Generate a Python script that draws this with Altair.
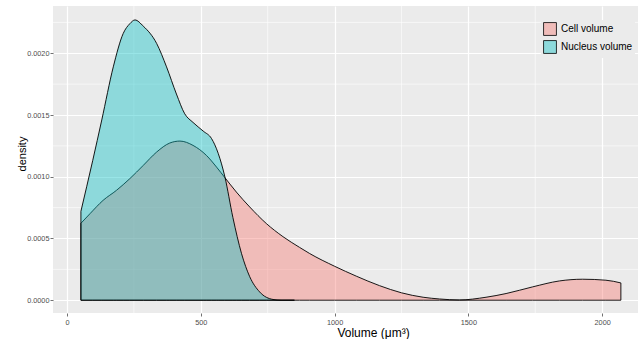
import altair as alt
import pandas as pd

series_names = ["Cell volume", "Nucleus volume"]
series_colors = ["#F8766D", "#00BFC4"]
legend_colors = ["#F0BCB9", "#8DD9DB"]

cell_x = [52, 86, 135, 185, 235, 285, 335, 384, 422, 471, 521, 559, 590, 633, 683, 745,
          807, 869, 907, 1000, 1081, 1168, 1250, 1331, 1392, 1466, 1566, 1641, 1740, 1840,
          1927, 2014, 2070]
cell_y = [0.000623, 0.000701, 0.000809, 0.000890, 0.000985, 0.001092, 0.001200, 0.001273,
          0.001289, 0.001254, 0.001173, 0.001078, 0.000993, 0.000876, 0.000755, 0.000621,
          0.000515, 0.000428, 0.000378, 0.000275, 0.000195, 0.000118, 0.000060, 0.000024,
          0.000010, 0.000002, 0.000024, 0.000054, 0.000108, 0.000156, 0.000170, 0.000162,
          0.000140]

nucleus_x = [52, 96, 130, 173, 210, 235, 254, 285, 335, 372, 409, 440, 471, 509, 540, 565,
             590, 620, 652, 683, 720, 770, 800, 850]
nucleus_y = [0.00072, 0.00113, 0.00146, 0.00189, 0.00216, 0.00224, 0.00227, 0.00222, 0.00208,
             0.00189, 0.00167, 0.00151, 0.00144, 0.00137, 0.00131, 0.00119, 0.00100, 0.00067,
             0.00038, 0.00019, 0.000067, 0.000006, 0.0, 0.0]

x_major = [0, 500, 1000, 1500, 2000]
x_minor = [250, 750, 1250, 1750]
y_major = [0.0, 0.0005, 0.0010, 0.0015, 0.0020]
y_minor = [0.00025, 0.00075, 0.00125, 0.00175, 0.00225]

x_domain = [-52.3, 2134]
y_domain = [-0.0001036, 0.002383]

df = pd.concat([
    pd.DataFrame({"series": series_names[0], "x": cell_x, "y": cell_y}),
    pd.DataFrame({"series": series_names[1], "x": nucleus_x, "y": nucleus_y}),
], ignore_index=True)

xscale = alt.Scale(domain=x_domain, nice=False, zero=False)
yscale = alt.Scale(domain=y_domain, nice=False, zero=False)

font = "Liberation Sans"

x_axis = alt.Axis(
    values=x_major, format="d", title="Volume (μm³)",
    labelFontSize=7.3, labelColor="#4D4D4D", labelFont=font, labelPadding=2,
    tickColor="#333333", tickSize=3, tickWidth=0.7, domain=False,
    grid=True, gridColor="white", gridWidth=1.2,
    titleFont=font, titleFontSize=12, titleFontWeight="normal", titleColor="black",
    titleX=320, titleY=19, titleBaseline="middle", titleAlign="center")

y_axis = alt.Axis(
    values=y_major, format=".4f", title="density",
    labelFontSize=7.3, labelColor="#4D4D4D", labelFont=font, labelPadding=1,
    tickColor="#333333", tickSize=3, tickWidth=0.7, domain=False,
    grid=True, gridColor="white", gridWidth=1.2,
    titleFont=font, titleFontSize=11, titleFontWeight="normal", titleColor="black",
    titleX=-31, titleY=147.5, titleBaseline="middle", titleAngle=270, titleAlign="center")

minor_x = alt.Chart(pd.DataFrame({"v": x_minor})).mark_rule(
    color="white", strokeWidth=0.6, clip=True
).encode(x=alt.X("v:Q", scale=xscale, axis=x_axis))

minor_y = alt.Chart(pd.DataFrame({"v": y_minor})).mark_rule(
    color="white", strokeWidth=0.6, clip=True
).encode(y=alt.Y("v:Q", scale=yscale, axis=y_axis))

areas = alt.Chart(df).mark_area(
    fillOpacity=0.4, stroke="black", strokeWidth=0.9, strokeOpacity=1,
    interpolate="monotone"
).encode(
    x=alt.X("x:Q", scale=xscale, axis=x_axis),
    y=alt.Y("y:Q", scale=yscale, stack=None, axis=y_axis),
    y2=alt.datum(0),
    color=alt.Color("series:N", scale=alt.Scale(domain=series_names, range=series_colors),
                    legend=None),
)

legend_layer = alt.Chart(pd.DataFrame({"series": series_names})).mark_square(
    opacity=0, size=10
).encode(
    x=alt.value(0), y=alt.value(0),
    color=alt.Color("series:N", scale=alt.Scale(domain=series_names, range=legend_colors),
                    legend=alt.Legend(title=None, orient="none", legendX=488, legendY=14,
                                      symbolType="square", symbolSize=165, symbolOpacity=1,
                                      symbolStrokeColor="black", symbolStrokeWidth=0.8,
                                      labelFontSize=10, labelFont=font, labelColor="black",
                                      labelLimit=200,
                                      fillColor="#EBEBEB", padding=2, rowPadding=0,
                                      labelOffset=4)),
)

chart = alt.layer(minor_x, minor_y, areas, legend_layer).resolve_scale(
    color="independent"
).properties(
    width=585, height=307,
    autosize=alt.AutoSizeParams(type="none"),
    padding={"left": 53, "top": 6, "right": 0, "bottom": 26},
    background="white",
).configure_view(fill="#EBEBEB", strokeWidth=0)

chart.save("out.html", embed_options={"renderer": "svg", "actions": False})
